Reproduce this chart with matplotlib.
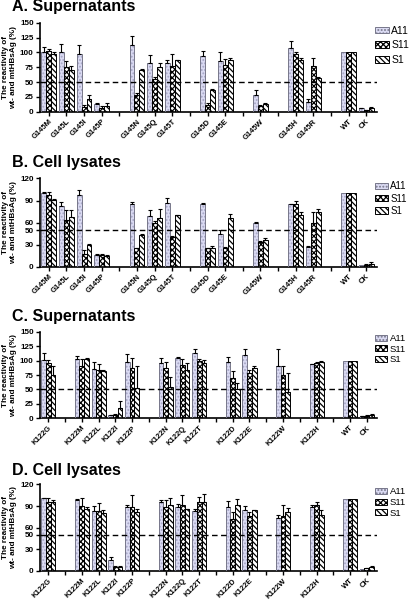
import numpy as np
import matplotlib
matplotlib.use("Agg")
import matplotlib.pyplot as plt
from matplotlib.patches import Patch

plt.rcParams['font.family'] = ['Liberation Sans', 'DejaVu Sans']
plt.rcParams['hatch.linewidth'] = 0.9

series = ['A11', 'S11', 'S1']

# ---------------- Panel A: G145 supernatants ----------------
groups_A = [['G145M', 'G145L', 'G145I', 'G145P'], ['G145N', 'G145Q', 'G145T'],
            ['G145D', 'G145E'], ['G145W'], ['G145H', 'G145R'], ['WT', 'CK']]
a11_A = [100, 100, 97, 13, 112, 82, 82, 94, 86, 28, 107, 17, 100, 6]
s11_A = [102, 76, 8, 7, 28, 55, 78, 12, 79, 9, 98, 77, 100, 3]
s1_A = [97, 70, 22, 10, 70, 76, 87, 36, 88, 13, 87, 57, 100, 6]
a11_A_sd = [10, 15, 16, 2, 16, 13, 5, 9, 14, 8, 13, 5, 0, 1]
s11_A_sd = [4, 10, 4, 3, 4, 3, 19, 2, 10, 2, 2, 14, 0, 0.5]
s1_A_sd = [4, 8, 7, 5, 2, 6, 1, 2, 3, 2, 3, 2, 0, 2]

# ---------------- Panel B: G145 cell lysates ----------------
groups_B = groups_A
a11_B = [100, 82, 98, 16, 86, 69, 87, 86, 45, 60, 85, 27, 100, 3]
s11_B = [97, 64, 17, 16, 25, 60, 41, 25, 25, 34, 85, 59, 100, 3]
s1_B = [91, 68, 30, 15, 43, 66, 70, 25, 67, 37, 71, 74, 100, 4]
a11_B_sd = [1.5, 6, 7, 1, 1.5, 8, 6, 0.5, 4.5, 0.5, 1, 1.5, 0, 0]
s11_B_sd = [4, 13, 6, 2, 1, 2, 1, 1, 2, 1, 4.5, 15, 0, 0.5]
s1_B_sd = [1, 9, 1, 1, 2, 12, 1, 3, 5, 2, 3, 4, 0, 2]

# ---------------- Panel C: K122 supernatants ----------------
groups_C = [['K122G'], ['K122M', 'K122L', 'K122I', 'K122P'], ['K122N', 'K122Q', 'K122T'],
            ['K122D', 'K122E'], ['K122W'], ['K122H'], ['WT', 'CK']]
a11_C = [101, 102, 85, 6, 97, 96, 104, 113, 98, 110, 90, 94, 100, 4]
s11_C = [95, 90, 83, 6, 88, 88, 93, 99, 70, 78, 75, 95, 100, 4]
s1_C = [75, 103, 82, 17, 52, 55, 84, 96, 50, 87, 46, 97, 100, 5]
a11_C_sd = [13, 6, 13, 0.5, 15, 8, 3, 7, 9, 10, 30, 0.5, 0, 0.5]
s11_C_sd = [6, 12, 11, 1, 17, 10, 10, 4, 12, 5, 16, 2, 0, 1]
s1_C_sd = [16, 1, 2, 13, 38, 16, 11, 5, 12, 4, 33, 3, 0, 3]

# ---------------- Panel D: K122 cell lysates ----------------
groups_D = groups_C
a11_D = [101, 98, 83, 15, 89, 96, 88, 83, 88, 84, 74, 88, 100, 3]
s11_D = [96, 90, 83, 5, 88, 89, 91, 96, 72, 76, 76, 91, 100, 4]
s1_D = [95, 86, 81, 5, 82, 91, 86, 96, 91, 84, 82, 77, 100, 5]
a11_D_sd = [0.5, 2, 7, 5, 3, 3, 5, 3, 9, 6, 4, 3, 0, 0]
s11_D_sd = [5, 11, 11, 1.5, 18, 10, 15, 7, 10, 6, 15, 5, 0, 0.5]
s1_D_sd = [4, 2, 3, 2, 4, 10, 0.5, 11, 9, 0.5, 5, 8, 0, 2]

panels = [
    ('A. Supernatants', groups_A, (a11_A, s11_A, s1_A), (a11_A_sd, s11_A_sd, s1_A_sd),
     [0, 25, 50, 75, 100, 125, 150], 150),
    ('B. Cell lysates', groups_B, (a11_B, s11_B, s1_B), (a11_B_sd, s11_B_sd, s1_B_sd),
     [0, 30, 50, 60, 90, 120], 120),
    ('C. Supernatants', groups_C, (a11_C, s11_C, s1_C), (a11_C_sd, s11_C_sd, s1_C_sd),
     [0, 25, 50, 75, 100, 125, 150], 150),
    ('D. Cell lysates', groups_D, (a11_D, s11_D, s1_D), (a11_D_sd, s11_D_sd, s1_D_sd),
     [0, 30, 50, 60, 90, 120], 120),
]

# layout (figure fractions)
axes_rects = [
    [0.096, 0.814, 0.810, 0.148],
    [0.096, 0.556, 0.810, 0.147],
    [0.096, 0.304, 0.810, 0.144],
    [0.096, 0.050, 0.810, 0.144],
]
title_y = [1 - 7 / 601, 1 - 162 / 601, 1 - 316 / 601, 1 - 470 / 601]
legend_fs = [7.5, 7.0, 6.8, 6.8]
legend_sp = [0.45, 0.25, 0.15, 0.2]

styles = [
    dict(face='#dadaf2', hatchcol='#a4a4c4', hatch='.....', edge='#77778a'),
    dict(face='white', hatchcol='black', hatch='xxxxxx', edge='black'),
    dict(face='white', hatchcol='black', hatch='\\\\\\\\\\\\', edge='black'),
]

fig = plt.figure(figsize=(4.16, 6.01), dpi=100)

bw = 0.28
for pi, (title, groups, vals, sds, yticks, ymax) in enumerate(panels):
    ax = fig.add_axes(axes_rects[pi])
    # positions with one empty slot between groups
    pos, tick_pos, tick_lab = [], [], []
    slot = 0
    for gi, g in enumerate(groups):
        if gi > 0:
            tick_pos.append(slot)
            tick_lab.append('')
            slot += 1
        for c in g:
            pos.append(slot)
            tick_pos.append(slot)
            tick_lab.append(c)
            slot += 1
    pos = np.array(pos, dtype=float)
    n_slots = slot

    for si in range(3):
        st = styles[si]
        x = pos + (si - 1) * bw
        v = np.array(vals[si], dtype=float)
        e = np.array(sds[si], dtype=float)
        ax.bar(x, v, width=bw, color=st['face'], edgecolor=st['hatchcol'],
               hatch=st['hatch'], linewidth=0, zorder=2)
        ax.bar(x, v, width=bw, fill=False, edgecolor=st['edge'], linewidth=0.7, zorder=3)
        mask = e > 0
        ax.errorbar(x[mask], v[mask], yerr=[np.zeros(mask.sum()), e[mask]], fmt='none',
                    ecolor='black', elinewidth=0.8, capsize=1.6, capthick=0.8, zorder=4)

    ax.axhline(50, color='black', linestyle=(0, (4, 2.5)), linewidth=1.0, zorder=5)

    ax.set_xlim(-0.5, n_slots - 0.4)
    ax.set_ylim(0, ymax)
    ax.set_yticks(yticks)
    ax.set_yticklabels([str(t) for t in yticks], fontsize=5.8, fontweight='bold')
    ax.set_xticks(tick_pos)
    ax.set_xticklabels(tick_lab, rotation=45, ha='right', rotation_mode='anchor',
                       fontsize=5.5, fontweight='bold')
    ax.tick_params(axis='both', direction='out', length=3, width=1.0, pad=1.5)
    ax.tick_params(axis='x', pad=1.5)
    for s in ['top', 'right']:
        ax.spines[s].set_visible(False)
    for s in ['left', 'bottom']:
        ax.spines[s].set_linewidth(1.2)

    fig.text(0.029, title_y[pi], title, fontsize=11.5, fontweight='bold',
             ha='left', va='center')
    r = axes_rects[pi]
    fig.text(9.5 / 416, r[1] + r[3] / 2, 'The reactivity of\nwt- and mtHBsAg (%)',
             fontsize=5.9, fontweight='bold', linespacing=1.05, rotation=90,
             ha='center', va='center', multialignment='center')

    handles = [Patch(facecolor=st['face'], edgecolor=st['edge'], hatch=st['hatch'],
                     linewidth=0.7) for st in styles]
    ax.legend(handles, series, loc='upper left', bbox_to_anchor=(0.995, 0.97),
              frameon=False, fontsize=legend_fs[pi], handlelength=1.3, handleheight=0.6,
              handletextpad=0.25, labelspacing=legend_sp[pi], borderpad=0,
              borderaxespad=0)

fig.savefig('out.png', dpi=100)
